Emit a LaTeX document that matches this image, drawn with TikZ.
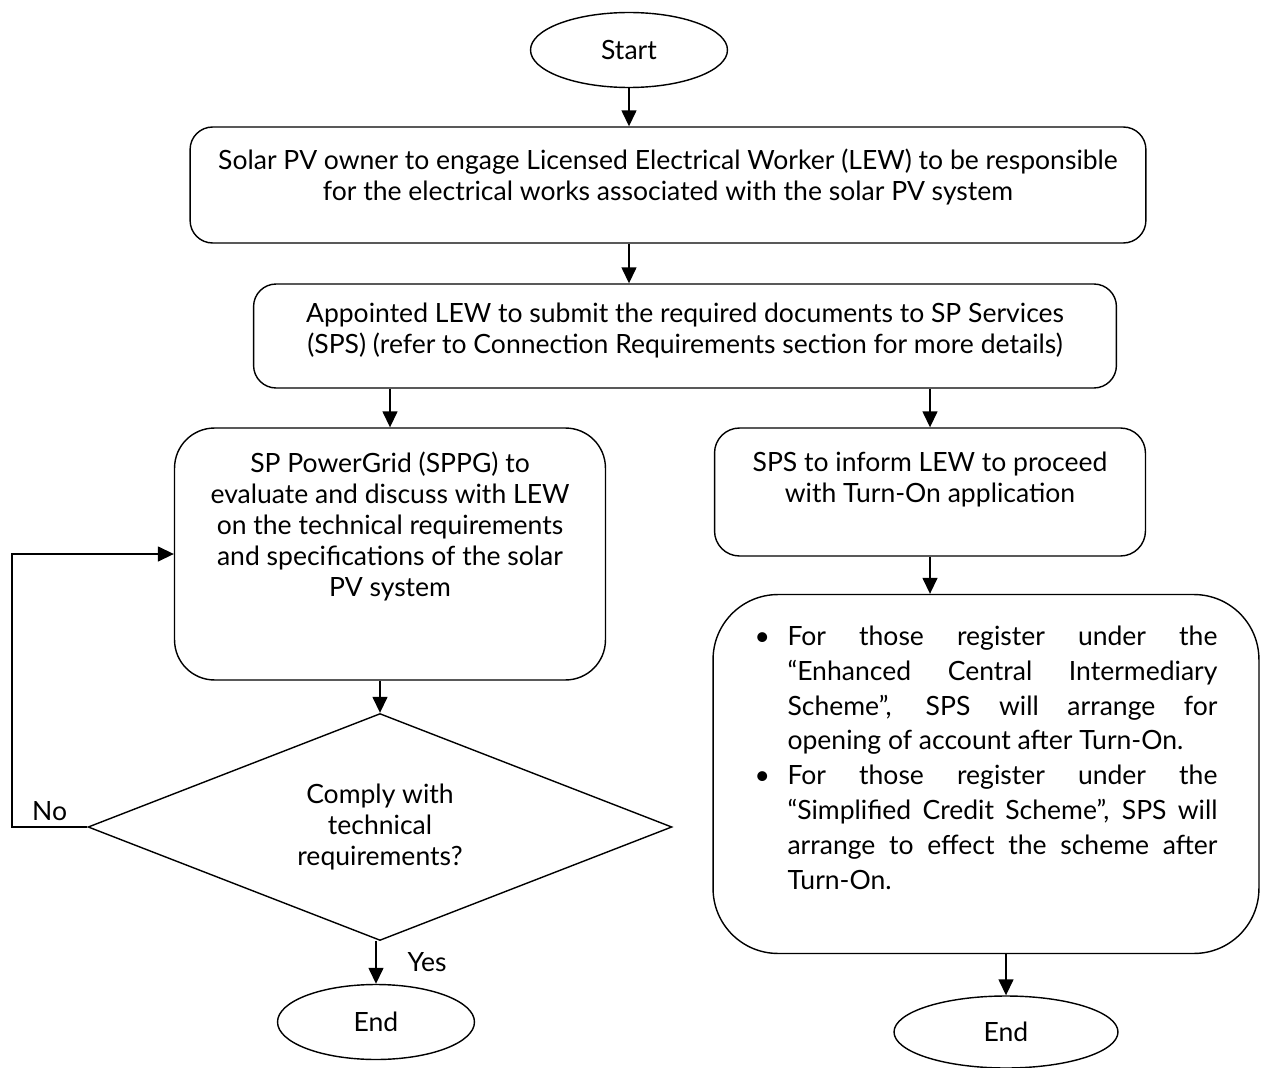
\documentclass[tikz,border=0pt]{standalone}
\usepackage{fontspec}
\setmainfont{Lato}
\usetikzlibrary{shapes.geometric,arrows.meta,positioning}

\newcommand{\jline}[1]{\makebox[8.6cm][s]{#1}}
\newcommand{\lline}[1]{\makebox[8.6cm][l]{#1}}
\newcommand{\bul}{\makebox[0.66cm][l]{\textbullet}}
\newcommand{\nob}{\hspace*{0.66cm}}

\begin{document}
\begin{tikzpicture}[x=0.02cm, y=-0.02cm, line width=0.8pt,
  every node/.style={font=\fontsize{15.1}{17.6}\selectfont},
  terminal/.style={draw, ellipse, inner sep=0},
  stepbox/.style={draw, rectangle, inner sep=0},
  steptext/.style={align=center, inner sep=0},
  flow/.style={-{Triangle[length=0.32cm, width=0.3cm]}}]
\useasboundingbox (0, 0) rectangle (1262, 1068);

\node[terminal, minimum width=3.94cm, minimum height=1.5cm] (start) at (629, 50) {Start};

\node[stepbox, rounded corners=0.45cm, minimum width=19.12cm, minimum height=2.32cm] (engage) at (668, 185) {};
\node[steptext, below=0.44cm of engage.north] (engagetxt) {Solar PV owner to engage Licensed Electrical Worker (LEW) to be responsible\\for the electrical works associated with the solar PV system};

\node[stepbox, rounded corners=0.45cm, minimum width=17.26cm, minimum height=2.08cm] (submit) at (685, 336) {};
\node[steptext, below=0.38cm of submit.north] (submittxt) {Appointed LEW to submit the required documents to SP Services\\(SPS) (refer to Connection Requirements section for more details)};

\node[stepbox, rounded corners=0.8cm, minimum width=8.62cm, minimum height=5.04cm] (evaluate) at (390, 554) {};
\node[steptext, below=0.48cm of evaluate.north] (evaluatetxt) {SP PowerGrid (SPPG) to\\evaluate and discuss with LEW\\on the technical requirements\\and specifications of the solar\\PV system};

\node[stepbox, rounded corners=0.5cm, minimum width=8.62cm, minimum height=2.56cm] (inform) at (930, 492) {};
\node[steptext, below=0.48cm of inform.north] (informtxt) {SPS to inform LEW to proceed\\with Turn-On application};

\node[stepbox, rounded corners=1.3cm, minimum width=10.92cm, minimum height=7.18cm] (arrange) at (986, 774) {};
\node[steptext, align=left, below=0.62cm of arrange.north, font=\fontsize{15.1}{19.9}\selectfont] (arrangetxt) {%
\bul\jline{For those register under the}\\
\nob\jline{“Enhanced Central Intermediary}\\
\nob\jline{Scheme”, SPS will arrange for}\\
\nob\lline{opening of account after Turn-On.}\\
\bul\jline{For those register under the}\\
\nob\jline{“Simplified Credit Scheme”, SPS will}\\
\nob\jline{arrange to effect the scheme after}\\
\nob\lline{Turn-On.}};

\node[draw, diamond, aspect=2.57, inner sep=0, align=center, minimum width=11.68cm, minimum height=4.54cm] (comply) at (380, 827) {Comply with\\technical\\requirements?};

\node[terminal, minimum width=3.94cm, minimum height=1.5cm] (endleft) at (376, 1022) {End};
\node[terminal, minimum width=4.48cm, minimum height=1.44cm] (endright) at (1006, 1032) {End};

\coordinate (noturn) at (12, 0);

\draw (start.south) edge[flow] (start.south |- engage.north);
\draw (start |- engage.south) edge[flow] (start |- submit.north);
\draw (evaluate.north |- submit.south) edge[flow] (evaluate.north);
\draw (inform.north |- submit.south) edge[flow] (inform.north);
\draw (inform.south) edge[flow] (inform.south |- arrange.north);
\draw (comply.north |- evaluate.south) edge[flow] (comply.north);
\draw (endleft |- comply.south) edge[flow] node[right=0.5cm] {Yes} (endleft.north);
\draw (endright |- arrange.south) edge[flow] (endright.north);
\draw[flow] (comply.west) -- node[above] {No} (comply.west -| noturn) |- (evaluate.west);
\end{tikzpicture}
\end{document}
